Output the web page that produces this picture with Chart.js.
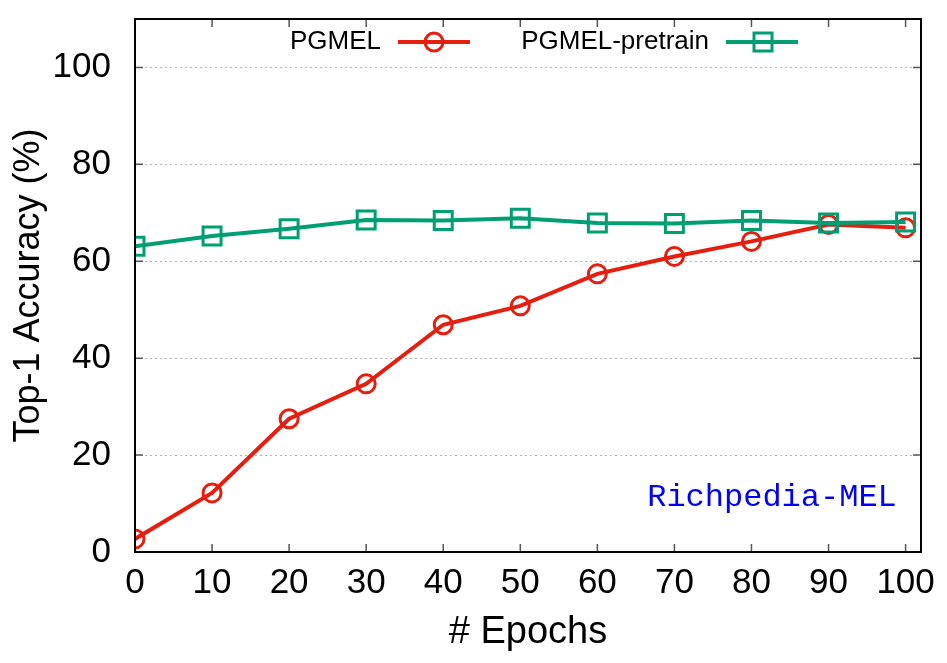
<!DOCTYPE html>
<html>
<head>
<meta charset="utf-8">
<script src="https://cdn.jsdelivr.net/npm/chart.js@4.4.0/dist/chart.umd.min.js"></script>
<style>
  html, body { margin: 0; padding: 0; background: #fff; }
  #wrap { width: 947px; height: 663px; }
</style>
</head>
<body>
<div id="wrap"><canvas id="accChart" width="947" height="663"></canvas></div>
<script>
// data
const epochs = [0, 10, 20, 30, 40, 50, 60, 70, 80, 90, 100];
const pgmel = [2.7, 12.2, 27.5, 34.7, 46.9, 50.8, 57.4, 61.0, 64.1, 67.6, 66.9];
const pgmelPretrain = [63.1, 65.2, 66.7, 68.5, 68.4, 68.9, 67.9, 67.8, 68.4, 67.9, 68.1];
const yTicks = [0, 20, 40, 60, 80, 100];
const xTicks = [0, 10, 20, 30, 40, 50, 60, 70, 80, 90, 100];

const RED = "#e51e10";
const GREEN = "#009e73";

Chart.defaults.font.family = "'Liberation Sans', Arial, sans-serif";
Chart.defaults.color = "#000";

// box, inward ticks, key and the corner label
const frame = {
  id: "frame",
  afterDraw(chart) {
    const { ctx, chartArea: a, scales } = chart;
    ctx.save();
    ctx.strokeStyle = "#555";
    ctx.lineWidth = 1.5;
    xTicks.forEach(v => {
      const x = scales.x.getPixelForValue(v);
      ctx.beginPath();
      ctx.moveTo(x, a.bottom); ctx.lineTo(x, a.bottom - 8);
      ctx.moveTo(x, a.top); ctx.lineTo(x, a.top + 8);
      ctx.stroke();
    });
    yTicks.forEach(v => {
      const y = scales.y.getPixelForValue(v);
      ctx.beginPath();
      ctx.moveTo(a.left, y); ctx.lineTo(a.left + 8, y);
      ctx.moveTo(a.right, y); ctx.lineTo(a.right - 8, y);
      ctx.stroke();
    });
    ctx.strokeStyle = "#000";
    ctx.lineWidth = 2;
    ctx.strokeRect(a.left, a.top, a.right - a.left, a.bottom - a.top);

    // key
    const ky = 42;
    ctx.font = "26px 'Liberation Sans', Arial, sans-serif";
    ctx.fillStyle = "#000";
    ctx.textAlign = "right";
    ctx.textBaseline = "middle";
    ctx.fillText("PGMEL", 381, ky);
    ctx.fillText("PGMEL-pretrain", 709, ky);
    ctx.lineWidth = 4;
    ctx.strokeStyle = RED;
    ctx.beginPath(); ctx.moveTo(398, ky); ctx.lineTo(470, ky); ctx.stroke();
    ctx.lineWidth = 3;
    ctx.beginPath(); ctx.arc(434, ky, 9, 0, Math.PI * 2); ctx.stroke();
    ctx.lineWidth = 4;
    ctx.strokeStyle = GREEN;
    ctx.beginPath(); ctx.moveTo(726, ky); ctx.lineTo(798, ky); ctx.stroke();
    ctx.lineWidth = 3;
    ctx.strokeRect(754, ky - 9, 18, 18);

    ctx.font = "32px 'Liberation Mono', 'Courier New', monospace";
    ctx.fillStyle = "#0000ff";
    ctx.textAlign = "center";
    ctx.fillText("Richpedia-MEL", 772, 498);
    ctx.restore();
  }
};

new Chart(document.getElementById("accChart"), {
  type: "line",
  data: {
    datasets: [
      {
        label: "PGMEL",
        data: epochs.map((e, i) => ({ x: e, y: pgmel[i] })),
        borderColor: RED,
        backgroundColor: "rgba(0,0,0,0)",
        borderWidth: 4,
        pointStyle: "circle",
        pointRadius: 9,
        pointBorderWidth: 3,
        pointBorderColor: RED,
        pointBackgroundColor: "rgba(0,0,0,0)",
        order: 2
      },
      {
        label: "PGMEL-pretrain",
        data: epochs.map((e, i) => ({ x: e, y: pgmelPretrain[i] })),
        borderColor: GREEN,
        backgroundColor: "rgba(0,0,0,0)",
        borderWidth: 4,
        pointStyle: "rect",
        pointRadius: 12.7,
        pointBorderWidth: 3,
        pointBorderColor: GREEN,
        pointBackgroundColor: "rgba(0,0,0,0)",
        order: 1
      }
    ]
  },
  options: {
    responsive: false,
    animation: false,
    layout: { padding: { top: 19, right: 26, left: 0, bottom: 0 } },
    plugins: {
      legend: { display: false },
      tooltip: { enabled: false }
    },
    scales: {
      x: {
        type: "linear",
        min: 0,
        max: 102,
        afterBuildTicks: s => { s.ticks = xTicks.map(v => ({ value: v })); },
        afterFit: s => { s.height = 111; s.paddingLeft = 0; s.paddingRight = 0; },
        grid: { display: false, drawTicks: false },
        border: { display: false },
        ticks: { font: { size: 35 }, padding: 10, maxRotation: 0, autoSkip: false },
        title: { display: true, text: "# Epochs", font: { size: 38 }, padding: { top: 0, bottom: 8 } }
      },
      y: {
        min: 0,
        max: 110,
        afterBuildTicks: s => { s.ticks = yTicks.map(v => ({ value: v })); },
        afterFit: s => { s.width = 135; s.paddingTop = 0; s.paddingBottom = 0; },
        grid: {
          color: c => (c.tick.value === 0 ? "rgba(0,0,0,0)" : "#b0b0b0"),
          lineWidth: 1,
          drawTicks: false
        },
        border: { display: false, dash: [2, 3] },
        ticks: { font: { size: 35 }, padding: 24 },
        title: { display: true, text: "Top-1 Accuracy (%)", font: { size: 36 }, padding: { top: 7, bottom: 0 } }
      }
    }
  },
  plugins: [frame]
});
</script>
</body>
</html>
